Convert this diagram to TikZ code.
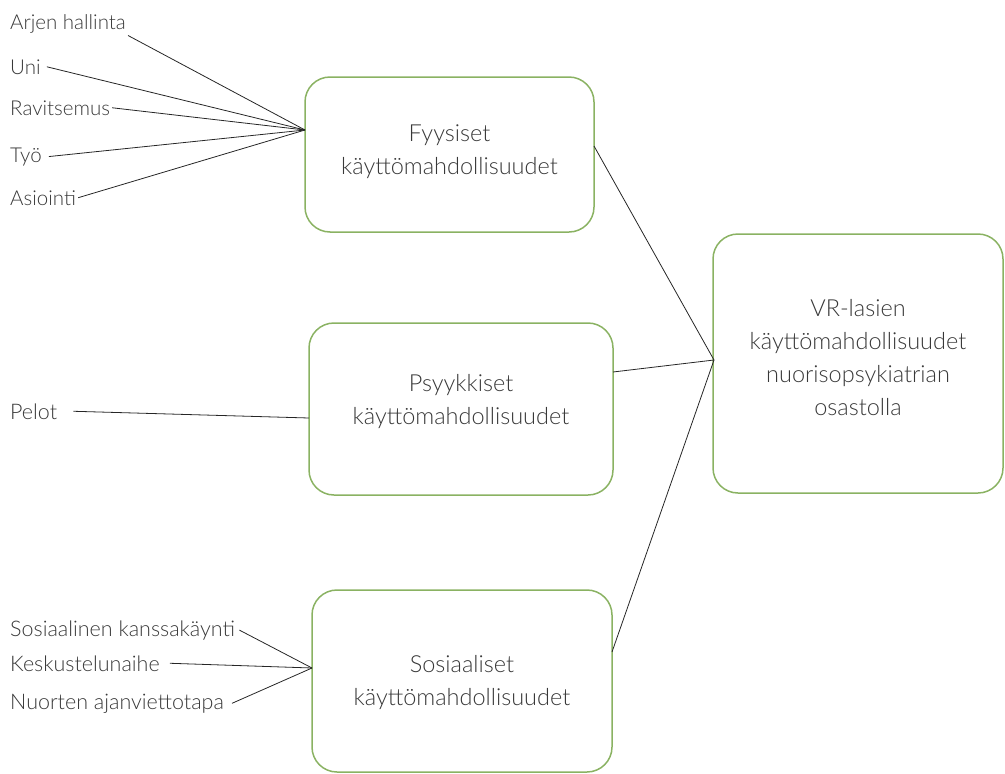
\documentclass[tikz,border=0pt]{standalone}
\usepackage{fontspec}
\setmainfont{Lato}[UprightFont={* Light}]
\definecolor{boxgreen}{RGB}{138,178,98}
\begin{document}
\begin{tikzpicture}[x=1pt,y=-1pt,
  box/.style={draw=boxgreen, line width=1.5pt, rounded corners=25pt, inner sep=0pt},
  boxtext/.style={align=center, font=\fontsize{23.5}{33}\selectfont, inner sep=0pt, text=black!78},
  lbl/.style={anchor=base west, inner sep=2pt, font=\fontsize{20.5}{24}\selectfont, text=black!78},
  lblb/.style={lbl, font=\fontsize{21.5}{24}\selectfont},
  conn/.style={draw=black!85, line width=0.8pt}]
\useasboundingbox (0,0) rectangle (1005,774);
% boxes
\node[box, minimum width=289pt, minimum height=155pt] (fyy) at (449.5,154.5) {};
\node[box, minimum width=304pt, minimum height=172pt] (psy) at (461,409) {};
\node[box, minimum width=300pt, minimum height=182pt] (sos) at (462,681) {};
\node[box, minimum width=290pt, minimum height=259pt] (vr) at (858,363.5) {};
\node[boxtext] (fyyt) at ([yshift=3pt]fyy.center) {Fyysiset\\käyttömahdollisuudet};
\node[boxtext] (psyt) at ([yshift=7pt]psy.center) {Psyykkiset\\käyttömahdollisuudet};
\node[boxtext] (sost) at ([yshift=-2pt]sos.center) {Sosiaaliset\\käyttömahdollisuudet};
\node[boxtext] (vrt) at ([yshift=6pt]vr.center) {VR-lasien\\käyttömahdollisuudet\\nuorisopsykiatrian\\osastolla};
% labels
\node[lbl] (arjen) at (8,29.5) {Arjen hallinta};
\node[lbl] (uni) at (8,74) {Uni};
\node[lbl] (ravi) at (8,115) {Ravitsemus};
\node[lbl] (tyo) at (8,162) {Työ};
\node[lbl] (asi) at (8,205) {Asiointi};
\node[lblb] (pelot) at (8,419) {Pelot};
\node[lblb] (sosk) at (8,636) {Sosiaalinen kanssakäynti};
\node[lblb] (kesk) at (8,671) {Keskustelunaihe};
\node[lblb] (nuor) at (8,709) {Nuorten ajanviettotapa};
% connection points
\coordinate (fyyin) at (305,130);
\coordinate (psyin) at (309,418);
\coordinate (sosin) at (312,668);
\coordinate (vrin) at (714,360);
\coordinate (fyyout) at (594,146);
\coordinate (psyout) at (613,372);
\coordinate (sosout) at (612,652);
% connectors
\draw[conn] (arjen.south east) -- (fyyin);
\draw[conn] ([xshift=4pt]uni.east) -- (fyyin);
\draw[conn] (ravi.east) -- (fyyin);
\draw[conn] ([xshift=5pt]tyo.east) -- (fyyin);
\draw[conn] (asi.east) -- (fyyin);
\draw[conn] ([xshift=14pt]pelot.east) -- (psyin);
\draw[conn] ([xshift=2pt]sosk.east) -- (sosin);
\draw[conn] ([xshift=8pt]kesk.east) -- (sosin);
\draw[conn] ([xshift=6pt]nuor.east) -- (sosin);
\draw[conn] (fyyout) -- (vrin);
\draw[conn] (psyout) -- (vrin);
\draw[conn] (sosout) -- (vrin);
\end{tikzpicture}
\end{document}
